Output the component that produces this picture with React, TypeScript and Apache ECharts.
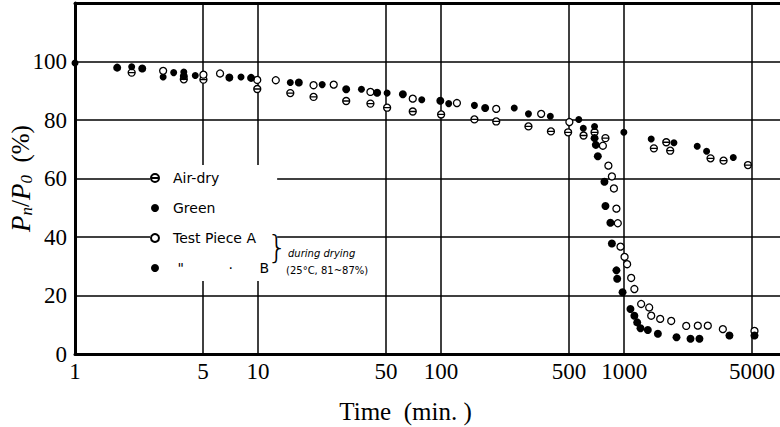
import React, { useEffect, useRef } from 'react';
import * as echarts from 'echarts';

const xTickValues = [1, 5, 10, 50, 100, 500, 1000, 5000];

const airDryTime = [2.04, 3.93, 5.03, 9.9, 15, 20.1, 30.3, 41.1, 50.7, 70, 100, 152, 200, 300, 398, 494, 600, 689, 790, 1453, 1698, 1784, 2963, 3490, 4745];
const airDryValue = [96.2, 93.9, 93.8, 90.6, 89.2, 87.9, 86.5, 85.6, 84.2, 82.9, 81.9, 80.2, 79.5, 77.8, 76.1, 75.8, 74.7, 75.8, 73.8, 70.3, 72.4, 69.5, 66.9, 66.1, 64.6];

const greenTime = [1, 2.04, 3.03, 3.46, 3.93, 4.54, 8.07, 15, 22.4, 36.7, 50.7, 78.4, 110, 152, 251, 300, 395, 565, 598, 689, 996, 1405, 1870, 2506, 2820, 3945];
const greenValue = [99.5, 98.2, 94.7, 96.2, 96.4, 95.2, 94.7, 92.8, 92.1, 90.5, 89.2, 86.9, 85.6, 85.0, 84.1, 82.1, 81.3, 80.2, 77.2, 77.8, 75.8, 73.5, 72.2, 71.0, 69.3, 67.2];

const pieceATime = [3.03, 5.03, 6.2, 9.9, 12.5, 20.1, 25.9, 41.1, 70, 122, 200, 352, 502, 765, 820, 857, 879, 907, 923, 955, 1005, 1038, 1092, 1137, 1238, 1370, 1405, 1573, 1807, 2183, 2525, 2863, 3460, 5150];
const pieceAValue = [96.8, 95.5, 95.9, 93.7, 93.6, 91.9, 92.1, 89.6, 87.3, 85.8, 83.8, 82.1, 79.3, 71.2, 64.4, 60.7, 56.6, 49.7, 44.7, 36.7, 33.2, 30.7, 26.0, 22.2, 17.1, 15.9, 13.1, 12.0, 11.3, 9.6, 9.7, 9.7, 8.5, 7.9];

const pieceBTime = [1.7, 2.33, 3.93, 6.97, 9.16, 16.7, 30.3, 44.7, 61.8, 99, 174, 689, 700, 718, 780, 790, 841, 857, 907, 916, 980, 1082, 1137, 1178, 1228, 1346, 1528, 1932, 2303, 2578, 3760, 5150];
const pieceBValue = [97.9, 97.6, 95.0, 94.5, 94.4, 92.8, 90.5, 89.3, 88.8, 86.6, 84.1, 73.8, 71.5, 67.6, 58.9, 50.6, 44.9, 37.8, 28.6, 25.7, 21.1, 15.4, 13.1, 10.8, 8.8, 8.2, 6.9, 5.7, 5.2, 5.2, 6.3, 6.3];

const seriesNames = ['Air-dry', 'Green', 'Test Piece A', 'Test Piece B'];

export default function App() {
  const ref = useRef<HTMLDivElement>(null);
  useEffect(() => {
    const chart = echarts.init(ref.current!, null, { renderer: 'svg' });
    const zip = (t: number[], v: number[]) => t.map((x, i) => [x, v[i]]);
    const theta = 'path://M0,6A6,6,0,1,1,12,6A6,6,0,1,1,0,6ZM0,6L12,6';
    const serif = '"Liberation Serif", "DejaVu Serif", serif';
    const xMax = 7100;
    chart.setOption({
      animation: false,
      backgroundColor: '#fff',
      grid: { left: 75, right: 0, top: 3, bottom: 73, containLabel: false, outerBoundsMode: 'none' },
      xAxis: [
        {
          type: 'log',
          logBase: 10,
          min: 1,
          max: xMax,
          axisLine: { lineStyle: { color: '#000', width: 3 } },
          axisTick: { show: false, customValues: xTickValues },
          minorTick: { show: false },
          axisLabel: {
            customValues: xTickValues,
            color: '#000',
            fontFamily: serif,
            fontSize: 23,
            margin: 6,
            formatter: (v: number) => String(Math.round(v)),
          },
          splitLine: { show: true, lineStyle: { color: '#000', width: 1.5 } },
          name: 'Time  (min. )',
          nameLocation: 'middle',
          nameGap: 45,
          nameMoveOverlap: false,
          nameTextStyle: { color: '#000', fontFamily: serif, fontSize: 25, padding: [0, 44, 0, 0] },
        },
        {
          type: 'log',
          logBase: 10,
          position: 'top',
          min: 1,
          max: xMax,
          axisLine: { lineStyle: { color: '#000', width: 3 } },
          axisTick: { show: false },
          axisLabel: { show: false },
          splitLine: { show: false },
        },
      ],
      yAxis: {
        type: 'value',
        min: 0,
        max: 120,
        interval: 20,
        axisLine: { show: true, lineStyle: { color: '#000', width: 3 } },
        axisTick: { show: false },
        axisLabel: {
          color: '#000',
          fontFamily: serif,
          fontSize: 23,
          margin: 8,
          formatter: (v: number) => (v > 100 ? '' : String(v)),
        },
        splitLine: { show: true, lineStyle: { color: '#000', width: 1.5 } },
        name: '{i|P}{s|n}{t|/}{i|P}{s|0}{t|  (%)}',
        nameLocation: 'middle',
        nameGap: 40,
        nameMoveOverlap: false,
        nameTextStyle: {
          color: '#000',
          rich: {
            i: { fontFamily: serif, fontStyle: 'italic', fontSize: 27, color: '#000' },
            s: { fontFamily: serif, fontStyle: 'italic', fontSize: 17, color: '#000', padding: [12, 0, 0, 0] },
            t: { fontFamily: serif, fontSize: 25, color: '#000' },
          },
        },
      },
      legend: {
        orient: 'vertical',
        left: 150,
        top: 165,
        backgroundColor: '#fff',
        padding: [4, 8, 4, 0],
        itemWidth: 26,
        itemHeight: 8,
        itemGap: 12,
        selectedMode: false,
        data: seriesNames,
        textStyle: { fontFamily: '"DejaVu Sans", sans-serif', fontSize: 14, color: '#000', lineHeight: 18 },
        formatter: (name: string) => (name === 'Test Piece B' ? ' "          \u00b7      B' : name),
      },
      graphic: [
        { type: 'text', left: 267, top: 231, z: 100, style: { text: '}', font: '300 32px "DejaVu Sans"', fill: '#000' } },
        { type: 'text', left: 288, top: 248, z: 100, style: { text: 'during drying', font: 'italic 10px "DejaVu Sans"', fill: '#000' } },
        { type: 'text', left: 286, top: 265, z: 100, style: { text: '(25\u00b0C, 81~87%)', font: '10px "DejaVu Sans"', fill: '#000' } },
      ],
      series: [
        {
          name: 'Air-dry',
          type: 'scatter',
          data: zip(airDryTime, airDryValue),
          symbol: theta,
          symbolKeepAspect: true,
          symbolSize: 7,
          itemStyle: { color: '#fff', borderColor: '#000', borderWidth: 1.3, opacity: 1 },
        },
        {
          name: 'Green',
          type: 'scatter',
          data: zip(greenTime, greenValue),
          symbol: 'circle',
          symbolSize: 7,
          itemStyle: { color: '#000', opacity: 1 },
        },
        {
          name: 'Test Piece A',
          type: 'scatter',
          data: zip(pieceATime, pieceAValue),
          symbol: 'circle',
          symbolSize: 7,
          itemStyle: { color: '#fff', borderColor: '#000', borderWidth: 1.3, opacity: 1 },
        },
        {
          name: 'Test Piece B',
          type: 'scatter',
          data: zip(pieceBTime, pieceBValue),
          symbol: 'circle',
          symbolSize: 8,
          itemStyle: { color: '#000', opacity: 1 },
        },
      ],
    });
    return () => chart.dispose();
  }, []);
  return <div ref={ref} style={{ position: 'fixed', left: 0, top: 0, width: 780, height: 427 }} />;
}
